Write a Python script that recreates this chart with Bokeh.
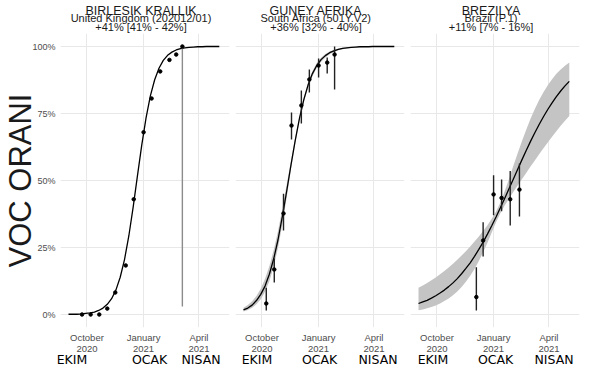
import pandas as pd
from bokeh.plotting import figure
from bokeh.layouts import row, column
from bokeh.models import ColumnDataSource, FixedTicker, Range1d, Label, DatetimeAxis
from bokeh.embed import file_html
from bokeh.resources import INLINE

# ---------------- data ----------------
fit_dates = pd.date_range("2020-09-01", "2021-05-04", freq="7D")

uk_fit = [0.001, 0.001, 0.001, 0.002, 0.004, 0.006, 0.009, 0.015, 0.024, 0.038, 0.059, 0.091,
          0.139, 0.205, 0.293, 0.400, 0.517, 0.632, 0.734, 0.816, 0.876, 0.919, 0.948, 0.967,
          0.979, 0.987, 0.992, 0.995, 0.997, 0.998, 0.999, 0.999, 1.0, 1.0, 1.0, 1.0]

sa_fit = [0.017, 0.024, 0.035, 0.052, 0.075, 0.106, 0.150, 0.207, 0.278, 0.364, 0.458, 0.556,
          0.649, 0.733, 0.802, 0.857, 0.899, 0.929, 0.951, 0.966, 0.977, 0.984, 0.989, 0.993,
          0.995, 0.997, 0.998, 0.999, 0.999, 0.999, 1.0, 1.0, 1.0, 1.0, 1.0, 1.0]
sa_lo = [0.011, 0.017, 0.025, 0.038, 0.057, 0.085, 0.124, 0.178, 0.248, 0.334, 0.434, 0.538,
         0.638, 0.725, 0.793, 0.847, 0.889, 0.920, 0.943, 0.959, 0.971, 0.980, 0.986, 0.990,
         0.993, 0.995, 0.996, 0.997, 0.998, 0.998, 0.999, 0.999, 0.999, 0.999, 0.999, 0.999]
sa_hi = [0.025, 0.035, 0.049, 0.069, 0.096, 0.133, 0.180, 0.240, 0.311, 0.394, 0.483, 0.573,
         0.660, 0.740, 0.811, 0.866, 0.908, 0.938, 0.958, 0.972, 0.981, 0.988, 0.992, 0.995,
         0.997, 0.998, 0.999, 0.999, 1.0, 1.0, 1.0, 1.0, 1.0, 1.0, 1.0, 1.0]

br_fit = [0.041, 0.047, 0.053, 0.061, 0.070, 0.080, 0.091, 0.104, 0.118, 0.134, 0.152, 0.172,
          0.193, 0.217, 0.243, 0.270, 0.300, 0.331, 0.364, 0.398, 0.433, 0.469, 0.505, 0.541,
          0.577, 0.612, 0.646, 0.678, 0.709, 0.738, 0.765, 0.790, 0.813, 0.834, 0.853, 0.870]
br_lo = [0.016, 0.019, 0.023, 0.028, 0.034, 0.041, 0.050, 0.060, 0.072, 0.086, 0.103, 0.122,
         0.145, 0.170, 0.200, 0.232, 0.268, 0.306, 0.344, 0.378, 0.407, 0.432, 0.457, 0.481,
         0.505, 0.528, 0.552, 0.575, 0.598, 0.620, 0.642, 0.663, 0.684, 0.704, 0.723, 0.741]
br_hi = [0.100, 0.108, 0.118, 0.128, 0.138, 0.150, 0.162, 0.175, 0.189, 0.204, 0.220, 0.236,
         0.254, 0.272, 0.291, 0.312, 0.333, 0.357, 0.384, 0.418, 0.460, 0.506, 0.554, 0.601,
         0.646, 0.689, 0.730, 0.767, 0.800, 0.829, 0.855, 0.878, 0.898, 0.914, 0.928, 0.940]

uk_dates = ["2020-09-23", "2020-10-07", "2020-10-21", "2020-11-03", "2020-11-16", "2020-12-03",
            "2020-12-16", "2021-01-01", "2021-01-14", "2021-01-28", "2021-02-12", "2021-02-23",
            "2021-03-05"]
uk_vals = [0.0, 0.0, 0.0, 0.022, 0.082, 0.183, 0.43, 0.68, 0.806, 0.907, 0.95, 0.97, 1.0]
uk_lo = [0.0, 0.0, 0.0, 0.020, 0.079, 0.179, 0.425, 0.676, 0.802, 0.904, 0.947, 0.966, 0.03]
uk_hi = [0.001, 0.001, 0.001, 0.024, 0.085, 0.187, 0.435, 0.684, 0.810, 0.910, 0.953, 0.974, 1.0]

sa_dates = ["2020-10-08", "2020-10-21", "2020-11-05", "2020-11-18", "2020-12-04", "2020-12-17",
            "2021-01-01", "2021-01-15", "2021-01-27"]
sa_vals = [0.041, 0.168, 0.377, 0.705, 0.78, 0.877, 0.929, 0.94, 0.97]
sa_plo = [0.015, 0.119, 0.313, 0.653, 0.713, 0.828, 0.884, 0.899, 0.84]
sa_phi = [0.10, 0.209, 0.451, 0.754, 0.836, 0.914, 0.955, 0.959, 1.0]

br_dates = ["2020-12-04", "2020-12-15", "2021-01-01", "2021-01-14", "2021-01-28", "2021-02-12"]
br_vals = [0.065, 0.276, 0.448, 0.435, 0.43, 0.466]
br_plo = [0.015, 0.216, 0.37, 0.385, 0.332, 0.366]
br_phi = [0.176, 0.344, 0.52, 0.504, 0.535, 0.563]

panel_titles = ["BIRLESIK KRALLIK", "GUNEY AFRIKA", "BREZILYA"]
panel_subtitles = ["United Kingdom (202012/01)", "South Africa (501Y.V2)", "Brazil (P.1)"]
panel_advantage = ["+41% [41% - 42%]", "+36% [32% - 40%]", "+11% [7% - 16%]"]

tick_dates = ["2020-10-01", "2021-01-01", "2021-04-01"]
tick_labels = ["October\n2020", "January\n2021", "April\n2021"]
month_labels = ["EKIM", "OCAK", "NISAN"]
y_ticks = [0, 0.25, 0.5, 0.75, 1.0]
y_tick_labels = ["0%", "25%", "50%", "75%", "100%"]
y_title = "VOC ORANI"

# ---------------- layout helpers ----------------
PX = 268.0                        # pixels per unit of share
Y0, Y1 = -13 / PX, 1 + 13 / PX
X0, X1 = pd.Timestamp("2020-08-19"), pd.Timestamp("2021-05-20 14:00")
DAY_MS = 86400000.0
PXD = 169.0 / ((X1 - X0).total_seconds() / 86400.0)   # px per day
HEAD_H = 33
FRAME_H = 294
BOTTOM = 40
borders = [(56, 3), (3, 3), (3, 15)]
TOTAL_W = sum(b[0] + 169 + b[1] for b in borders)
month_offsets = [[-15, 6, 2], [-5, 1, 4], [-4, 2, 5]]   # px shift of month names


def ms(d):
    return pd.Timestamp(d).value / 1e6


tick_ms = [ms(d) for d in tick_dates]


def make_header():
    h = figure(width=TOTAL_W, height=HEAD_H, min_border=0, x_axis_type=None, y_axis_type=None,
               x_range=Range1d(0, TOTAL_W), y_range=Range1d(0, HEAD_H),
               output_backend="svg", toolbar_location=None)
    h.outline_line_color = None
    left = 0
    for i, (bl, br) in enumerate(borders):
        cx = left + bl + 169 / 2
        left += bl + 169 + br
        specs = [(panel_titles[i], "12.5px", 22.5),
                 (panel_subtitles[i], "11px", 15.5),
                 (panel_advantage[i], "11px", 6.3)]
        for txt, size, yb in specs:
            h.add_layout(Label(x=cx, y=yb, text=txt, text_align="center",
                               text_baseline="alphabetic", text_font="Liberation Sans",
                               text_font_size=size, text_color="#1a1a1a"))
    return h


def make_panel(i, fit, lo, hi, dates, vals, plo, phi, bar_color):
    first = i == 0
    bl, br = borders[i]
    p = figure(x_axis_type="datetime", frame_width=169, frame_height=FRAME_H,
               min_border_left=bl, min_border_right=br,
               min_border_top=0, min_border_bottom=BOTTOM,
               x_range=Range1d(X0, X1), y_range=Range1d(Y0, Y1),
               output_backend="svg", toolbar_location=None)
    p.outline_line_color = None
    p.xgrid.ticker = FixedTicker(ticks=tick_ms)
    p.ygrid.ticker = FixedTicker(ticks=y_ticks)
    for g in (p.xgrid, p.ygrid):
        g.grid_line_color = "#e8e8e8"
        g.grid_line_width = 1
    xa = p.xaxis[0]
    xa.ticker = FixedTicker(ticks=tick_ms)
    xa.major_label_overrides = {t: lab for t, lab in zip(tick_ms, tick_labels)}
    xa.axis_line_color = None
    xa.major_tick_line_color = None
    xa.minor_tick_line_color = None
    xa.major_tick_out = 0
    xa.major_tick_in = 0
    xa.major_label_standoff = 4
    xa.major_label_text_font = "Liberation Sans"
    xa.major_label_text_font_size = "9.5px"
    xa.major_label_text_color = "#4d4d4d"
    xa.major_label_text_line_height = 1.05

    m_ms = [t + off / PXD * DAY_MS for t, off in zip(tick_ms, month_offsets[i])]
    xa2 = DatetimeAxis(ticker=FixedTicker(ticks=m_ms),
                       major_label_overrides={t: lab for t, lab in zip(m_ms, month_labels)},
                       axis_line_color=None, major_tick_line_color=None,
                       minor_tick_line_color=None, major_tick_out=0, major_tick_in=0,
                       major_label_standoff=-6,
                       major_label_text_font="DejaVu Sans",
                       major_label_text_font_size="12.5px",
                       major_label_text_color="black")
    p.add_layout(xa2, "below")

    ya = p.yaxis[0]
    if first:
        ya.ticker = FixedTicker(ticks=y_ticks)
        ya.major_label_overrides = {t: lab for t, lab in zip(y_ticks, y_tick_labels)}
        ya.axis_line_color = None
        ya.major_tick_line_color = None
        ya.minor_tick_line_color = None
        ya.major_tick_out = 0
        ya.major_tick_in = 0
        ya.major_label_standoff = 5
        ya.major_label_text_font = "Liberation Sans"
        ya.major_label_text_font_size = "9px"
        ya.major_label_text_color = "#4d4d4d"
        ya.axis_label = y_title
        ya.axis_label_text_font = "Liberation Sans"
        ya.axis_label_text_font_size = "31px"
        ya.axis_label_text_font_style = "normal"
        ya.axis_label_text_color = "#1a1a1a"
        ya.axis_label_standoff = -9
    else:
        ya.visible = False

    src = ColumnDataSource(dict(x=fit_dates, fit=fit))
    if lo is not None:
        src.data["lo"] = lo
        src.data["hi"] = hi
        p.varea(x="x", y1="lo", y2="hi", source=src, fill_color="#c4c4c4", fill_alpha=1)
    p.line(x="x", y="fit", source=src, line_color="black", line_width=1.3)
    ps = ColumnDataSource(dict(x=pd.to_datetime(dates), y=vals, lo=plo, hi=phi))
    p.segment(x0="x", y0="lo", x1="x", y1="hi", source=ps, line_color=bar_color, line_width=1.4)
    p.scatter(x="x", y="y", source=ps, size=3.5, color="black")
    return p


p1 = make_panel(0, uk_fit, None, None, uk_dates, uk_vals, uk_lo, uk_hi, "#8c8c8c")
p2 = make_panel(1, sa_fit, sa_lo, sa_hi, sa_dates, sa_vals, sa_plo, sa_phi, "#222222")
p3 = make_panel(2, br_fit, br_lo, br_hi, br_dates, br_vals, br_plo, br_phi, "#222222")

layout = column(make_header(), row(p1, p2, p3))
open("out.html", "w").write(file_html(layout, INLINE))
